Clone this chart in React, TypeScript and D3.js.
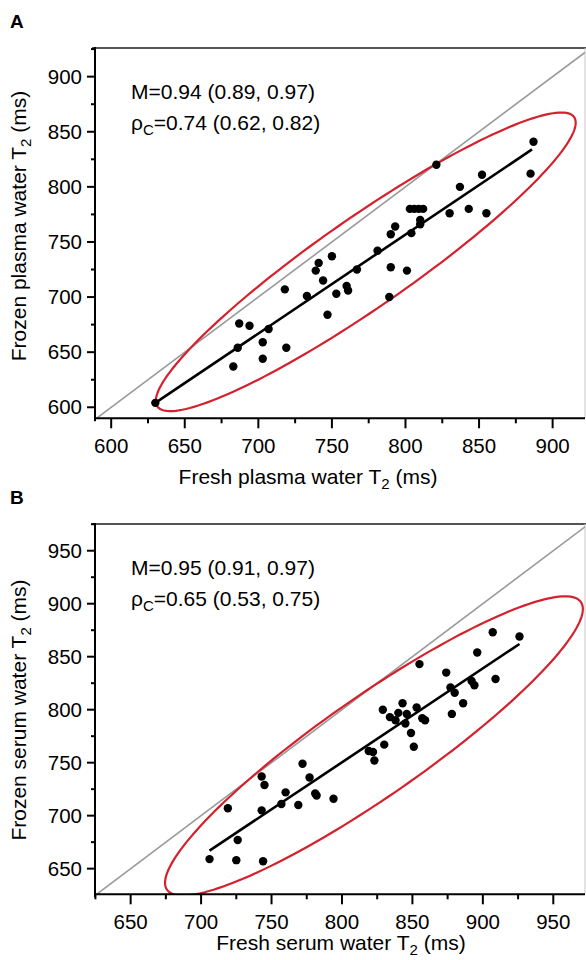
import React from 'react'
import * as d3 from 'd3'

// panel A: plasma
const plasmaFresh = [630, 683, 686, 687, 694, 707, 703, 703, 719, 718, 733, 741, 739, 744, 750, 747, 753, 760, 761, 767, 781, 789, 790, 790, 793, 801, 804, 810, 810, 803, 806, 809, 812, 821, 830, 837, 843, 852, 855, 887, 885]
const plasmaFrozen = [604, 637, 654, 676, 674, 671, 659, 644, 654, 707, 701, 731, 724, 715, 737, 684, 703, 710, 706, 725, 742, 700, 727, 757, 764, 724, 758, 770, 766, 780, 780, 780, 780, 820, 776, 800, 780, 811, 776, 841, 812]
const plasmaFitX = [630, 886]
const plasmaFitY = [604, 834]
const plasmaEllipseCenter = [773, 732]
const plasmaEllipseMajor = [141.6, 131.3]
const plasmaEllipseMinor = [17.5, -33.4]
const plasmaTicks = [600, 650, 700, 750, 800, 850, 900]
const plasmaStats = ['0.94 (0.89, 0.97)', '0.74 (0.62, 0.82)']

// panel B: serum
const serumFresh = [926, 907, 896, 909, 892, 894, 874, 877, 880, 886, 878, 855, 853, 857, 859, 843, 840, 846, 834, 838, 845, 829, 849, 851, 830, 819, 822, 823, 772, 777, 743, 745, 760, 781, 782, 757, 769, 794, 743, 719, 726, 706, 725, 744]
const serumFrozen = [869, 873, 854, 829, 827, 823, 835, 821, 816, 806, 796, 843, 802, 792, 790, 806, 797, 796, 793, 790, 787, 800, 778, 765, 767, 761, 760, 752, 749, 736, 737, 729, 722, 721, 719, 711, 710, 716, 705, 707, 677, 659, 658, 657]
const serumFitX = [706, 926]
const serumFitY = [667, 862]
const serumEllipseCenter = [822.7, 765.8]
const serumEllipseMajor = [146.9, 135.7]
const serumEllipseMinor = [20.2, -38.8]
const serumTicks = [650, 700, 750, 800, 850, 900, 950]
const serumStats = ['0.95 (0.91, 0.97)', '0.65 (0.53, 0.75)']

const font = "'Liberation Sans', Arial, Helvetica, sans-serif"
const RED = '#d3222d'

type PanelProps = {
  id: string
  letter: string
  top: number
  xDomain: number[]
  yDomain: number[]
  fresh: number[]
  frozen: number[]
  fitX: number[]
  fitY: number[]
  center: number[]
  major: number[]
  minor: number[]
  ticks: number[]
  stats: string[]
  xTitle: string
  yTitle: string
  xTitleX: number
  xTitleDy: number
  yTitleY: number
}

const Panel = (p: PanelProps) => {
  const left = 95, right = 585
  const plotTop = p.top, plotBottom = p.top + 370.3
  const x = d3.scaleLinear().domain(p.xDomain).range([left, right])
  const y = d3.scaleLinear().domain(p.yDomain).range([plotBottom, plotTop])

  const minorTicks = (dom: number[]) =>
    d3.range(Math.ceil(dom[0] / 25) * 25, dom[1], 25).filter(v => v % 50 !== 0)

  const ellipsePts = d3.range(0, 361, 2).map(deg => {
    const t = (deg * Math.PI) / 180
    return [
      p.center[0] + p.major[0] * Math.cos(t) + p.minor[0] * Math.sin(t),
      p.center[1] + p.major[1] * Math.cos(t) + p.minor[1] * Math.sin(t),
    ]
  })
  const ellipse = d3.line<number[]>().x(d => x(d[0])).y(d => y(d[1])).curve(d3.curveLinearClosed)

  const lo = Math.max(p.xDomain[0], p.yDomain[0])
  const hi = Math.min(p.xDomain[1], p.yDomain[1])

  return (
    <g fontFamily={font}>
      <defs>
        <clipPath id={`clip-${p.id}`}>
          <rect x={left} y={plotTop} width={right - left} height={plotBottom - plotTop} />
        </clipPath>
      </defs>
      <text x={10} y={p.top - 20} fontSize={19} fontWeight="bold">{p.letter}</text>

      {/* frame */}
      <line x1={92} x2={586} y1={plotTop} y2={plotTop} stroke="#555" strokeWidth={2.2} />
      <line x1={right} x2={right} y1={plotTop} y2={plotBottom} stroke="#c8c8c8" strokeWidth={1} />

      <g clipPath={`url(#clip-${p.id})`}>
        <line x1={x(lo)} y1={y(lo)} x2={x(hi)} y2={y(hi)} stroke="#999" strokeWidth={1.6} />
        <path d={ellipse(ellipsePts) ?? ''} fill="none" stroke={RED} strokeWidth={2.2} />
        <line x1={x(p.fitX[0])} y1={y(p.fitY[0])} x2={x(p.fitX[1])} y2={y(p.fitY[1])} stroke="#000" strokeWidth={2.6} />
        {p.fresh.map((v, i) => (
          <circle key={i} cx={x(v)} cy={y(p.frozen[i])} r={4.2} fill="#000" />
        ))}
      </g>

      {/* y axis */}
      <line x1={left} x2={left} y1={plotTop - 1} y2={plotBottom + 3} stroke="#000" strokeWidth={2} />
      {p.ticks.map(t => (
        <g key={t} transform={`translate(0,${y(t)})`}>
          <line x1={left - 8} x2={left} stroke="#000" strokeWidth={2} />
          <text x={left - 13} dy="0.35em" textAnchor="end" fontSize={20.5}>{t}</text>
        </g>
      ))}
      {minorTicks(p.yDomain).map(t => (
        <line key={t} x1={left - 4} x2={left} y1={y(t)} y2={y(t)} stroke="#000" strokeWidth={2} />
      ))}

      {/* x axis */}
      <line x1={left - 1} x2={right} y1={plotBottom} y2={plotBottom} stroke="#000" strokeWidth={2} />
      {p.ticks.map(t => (
        <g key={t} transform={`translate(${x(t)},0)`}>
          <line y1={plotBottom} y2={plotBottom + 10} stroke="#000" strokeWidth={2} />
          <text y={plotBottom + 35} textAnchor="middle" fontSize={20.5}>{t}</text>
        </g>
      ))}
      {minorTicks(p.xDomain).map(t => (
        <line key={t} x1={x(t)} x2={x(t)} y1={plotBottom} y2={plotBottom + 5} stroke="#000" strokeWidth={2} />
      ))}

      {/* titles */}
      <text x={p.xTitleX} y={plotBottom + p.xTitleDy} textAnchor="middle" fontSize={21}>
        {p.xTitle}<tspan dy={5} fontSize={15}>2</tspan><tspan dy={-5}> (ms)</tspan>
      </text>
      <text transform={`translate(26,${p.yTitleY}) rotate(-90)`} textAnchor="middle" fontSize={21}>
        {p.yTitle}<tspan dy={5} fontSize={15}>2</tspan><tspan dy={-5}> (ms)</tspan>
      </text>

      {/* stats */}
      <text x={131} y={plotTop + 51} fontSize={21}>M={p.stats[0]}</text>
      <text x={131} y={plotTop + 82} fontSize={21}>
        ρ<tspan dy={5} fontSize={15}>C</tspan><tspan dy={-5}>={p.stats[1]}</tspan>
      </text>
    </g>
  )
}

export default function App() {
  return (
    <svg width={586} height={960} style={{ position: 'absolute', left: 0, top: 0, background: '#fff' }}>
      <rect width={586} height={960} fill="#fff" />
      <Panel
        id="a" letter="A" top={48}
        xDomain={[589, 922]} yDomain={[590, 926]}
        fresh={plasmaFresh} frozen={plasmaFrozen}
        fitX={plasmaFitX} fitY={plasmaFitY}
        center={plasmaEllipseCenter} major={plasmaEllipseMajor} minor={plasmaEllipseMinor}
        ticks={plasmaTicks} stats={plasmaStats}
        xTitle="Fresh plasma water T" yTitle="Frozen plasma water T"
        xTitleX={308} xTitleDy={66} yTitleY={226}
      />
      <Panel
        id="b" letter="B" top={524}
        xDomain={[624.7, 972.5]} yDomain={[625.8, 975.2]}
        fresh={serumFresh} frozen={serumFrozen}
        fitX={serumFitX} fitY={serumFitY}
        center={serumEllipseCenter} major={serumEllipseMajor} minor={serumEllipseMinor}
        ticks={serumTicks} stats={serumStats}
        xTitle="Fresh serum water T" yTitle="Frozen serum water T"
        xTitleX={341} xTitleDy={56} yTitleY={710}
      />
    </svg>
  )
}
